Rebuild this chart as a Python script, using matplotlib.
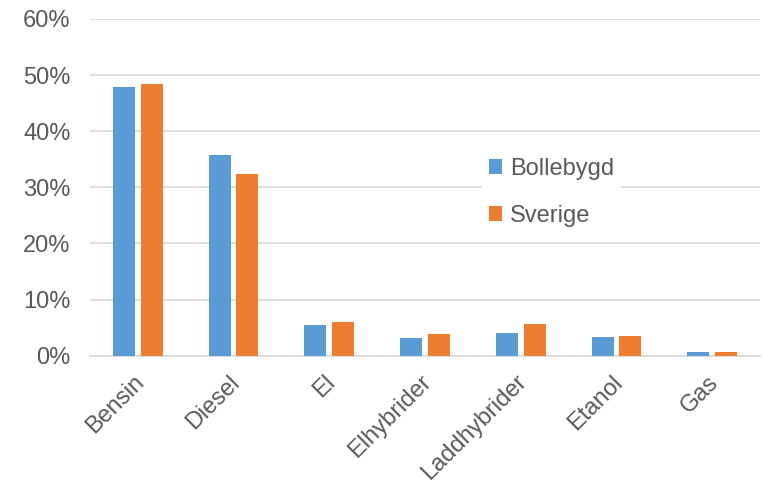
import numpy as np
import matplotlib.pyplot as plt
import matplotlib.transforms as mtransforms
from matplotlib.ticker import PercentFormatter

plt.rcParams['font.family'] = ['Liberation Sans', 'DejaVu Sans']

# Data (share of cars by fuel type, %)
categories = ['Bensin', 'Diesel', 'El', 'Elhybrider', 'Laddhybrider', 'Etanol', 'Gas']
bollebygd = [47.9, 35.8, 5.4, 3.1, 4.0, 3.3, 0.65]
sverige = [48.4, 32.4, 5.95, 3.85, 5.6, 3.55, 0.7]

blue = '#5b9bd5'
orange = '#ed7d31'
text_col = '#595959'
grid_col = '#d9d9d9'

fig = plt.figure(figsize=(7.63, 4.84), dpi=100)
ax = fig.add_axes([0.118, 0.265, 0.878, 0.696])

x = np.arange(len(categories))
w = 0.23
off = 0.145
ax.bar(x - off, bollebygd, w, color=blue, label='Bollebygd', zorder=3)
ax.bar(x + off, sverige, w, color=orange, label='Sverige', zorder=3)

ax.set_xlim(-0.5, len(categories) - 0.5)
ax.set_ylim(0, 60)
ax.set_yticks(np.arange(0, 61, 10))
ax.yaxis.set_major_formatter(PercentFormatter(decimals=0))
ax.grid(axis='y', color=grid_col, linewidth=1.2, zorder=0)

for s in ['top', 'right', 'left']:
    ax.spines[s].set_visible(False)
ax.spines['bottom'].set_color(grid_col)
ax.spines['bottom'].set_linewidth(1.2)

ax.tick_params(axis='both', length=0, labelsize=17, colors=text_col)
ax.tick_params(axis='y', pad=14)
ax.tick_params(axis='x', pad=11)
ax.set_xticks(x)
ax.set_xticklabels(categories, rotation=45, ha='right', rotation_mode='anchor')
# nudge rotated labels a little to the left
shift = mtransforms.ScaledTranslation(-5 / 100, 0, fig.dpi_scale_trans)
for lbl in ax.get_xticklabels():
    lbl.set_transform(lbl.get_transform() + shift)

leg = ax.legend(loc='center left', bbox_to_anchor=(0.567, 0.485), frameon=True,
                fontsize=17, handlelength=0.55, handleheight=0.55,
                handletextpad=0.35, labelspacing=1.05, borderpad=0.3)
leg.get_frame().set_edgecolor('none')
leg.get_frame().set_facecolor('white')
leg.get_frame().set_alpha(1)
leg.set_zorder(5)
for t in leg.get_texts():
    t.set_color(text_col)

plt.savefig('out.png', dpi=100)
